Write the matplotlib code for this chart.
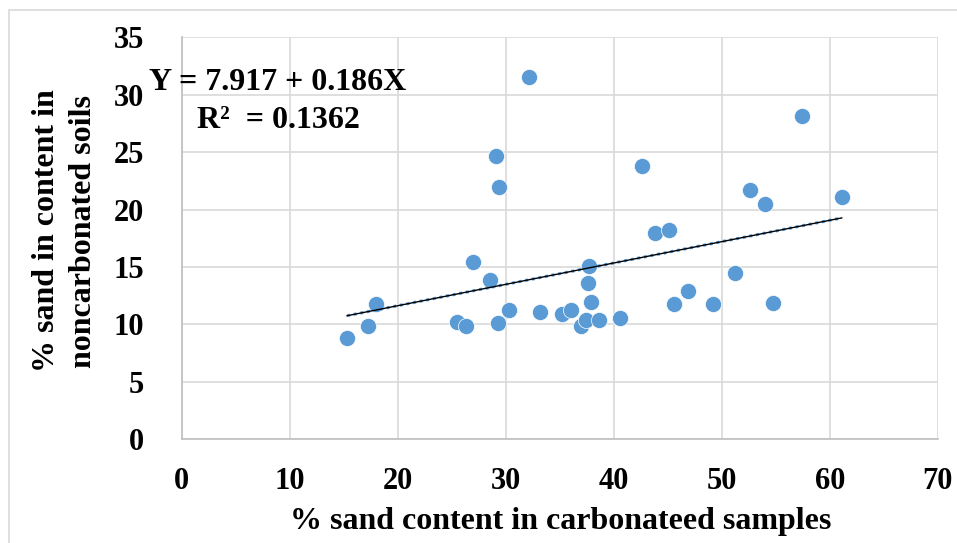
import matplotlib.pyplot as plt
import numpy as np
from matplotlib.patches import Rectangle

# 데이터
x_sand = [15.3, 17.2, 18.0, 25.5, 26.3, 27.0, 28.5, 29.1, 29.3, 29.4, 30.3,
          32.1, 33.2, 35.2, 36.0, 37.0, 37.4, 37.6, 37.7, 37.9, 38.6, 40.6,
          42.6, 43.8, 45.1, 45.6, 46.9, 49.2, 51.2, 52.6, 54.0, 54.7, 57.4, 61.1]
y_sand = [8.8, 9.9, 11.8, 10.2, 9.9, 15.4, 13.9, 24.7, 10.1, 22.0, 11.3,
          31.6, 11.1, 10.9, 11.3, 9.9, 10.4, 13.6, 15.1, 12.0, 10.4, 10.6,
          23.8, 18.0, 18.2, 11.8, 12.9, 11.8, 14.5, 21.7, 20.5, 11.9, 28.2, 21.1]
intercept = 7.917
slope = 0.186
r2 = 0.1362
x_ticks = [0, 10, 20, 30, 40, 50, 60, 70]
y_ticks = [0, 5, 10, 15, 20, 25, 30, 35]

plt.rcParams['font.family'] = ['Liberation Serif', 'DejaVu Serif']
plt.rcParams['font.weight'] = 'bold'

fig = plt.figure(figsize=(9.57, 5.43), dpi=100)
ax = fig.add_axes([0.190, 0.191, 0.790, 0.740])

# 바깥 테두리
fig.patches.append(Rectangle((9 / 957, -0.1), 1.2, 1 - 10 / 543 + 0.1,
                             transform=fig.transFigure, fill=False,
                             edgecolor='#d9d9d9', linewidth=1.2))

ax.scatter(x_sand, y_sand, s=135, color='#5B9BD5', edgecolor='white',
           linewidth=0.5, zorder=3)

# 추세선
x_line = np.array([min(x_sand), max(x_sand)])
y_line = intercept + slope * x_line
ax.plot(x_line, y_line, color='#5B9BD5', linewidth=2.2, linestyle=(0, (1, 1.2)), zorder=4)
ax.plot(x_line, y_line, color='black', linewidth=1.0, zorder=5)

ax.set_xlim(0, 70)
ax.set_ylim(0, 35)
ax.set_xticks(x_ticks)
ax.set_yticks(y_ticks)
ax.grid(True, color='#d9d9d9', linewidth=1.2)
ax.set_axisbelow(True)
for s in ['top', 'right']:
    ax.spines[s].set_visible(False)
for s in ['left', 'bottom']:
    ax.spines[s].set_color('#bfbfbf')
    ax.spines[s].set_linewidth(1.2)
ax.tick_params(length=0, labelsize=22, colors='black')
ax.tick_params(axis='x', pad=20)
ax.tick_params(axis='y', pad=27)
for lab in ax.get_xticklabels() + ax.get_yticklabels():
    lab.set_fontweight('bold')

# 회귀식 텍스트
fig.text(278 / 957, 1 - 83 / 543, f'Y = {intercept:.3f} + {slope:.3f}X',
         fontsize=23, fontweight='bold', ha='center', va='center')
fig.text(278 / 957, 1 - 121 / 543, f'R\u00b2  = {r2}', fontsize=23, fontweight='bold',
         ha='center', va='center')

fig.text(561 / 957, 1 - 521 / 543, '% sand content in carbonateed samples',
         fontsize=23, fontweight='bold', ha='center', va='center')
fig.text(65 / 957, 1 - 231 / 543, '% sand in content in\nnoncarbonated soils',
         fontsize=23, fontweight='bold', ha='center', va='center',
         rotation=90, linespacing=1.35)

fig.savefig('out.png', dpi=100)
